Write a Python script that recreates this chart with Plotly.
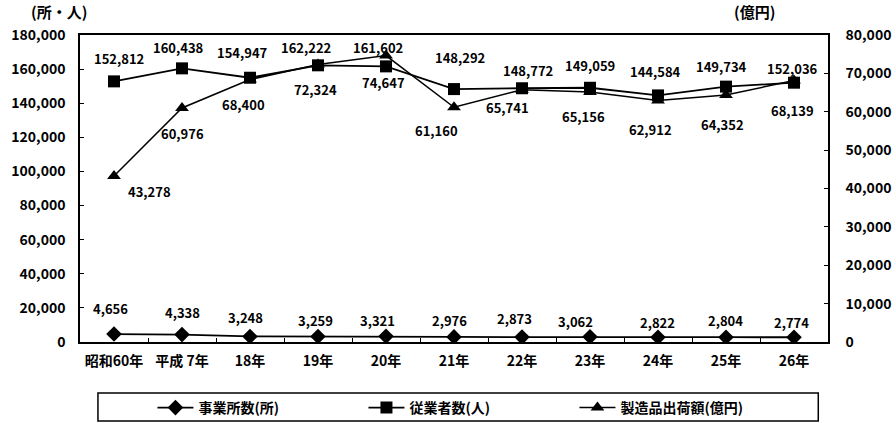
import plotly.graph_objects as go

# Survey years (category axis)
years = ["昭和60年", "平成 7年", "18年", "19年", "20年", "21年",
         "22年", "23年", "24年", "25年", "26年"]

# Number of establishments (所) - left axis
establishments = [4656, 4338, 3248, 3259, 3321, 2976, 2873, 3062, 2822, 2804, 2774]
# Number of employees (人) - left axis
employees = [152812, 160438, 154947, 162222, 161602, 148292,
             148772, 149059, 144584, 149734, 152036]
# Shipment value of manufactured goods (億円) - right axis
shipments = [43278, 60976, 68400, 72324, 74647, 61160,
             65741, 65156, 62912, 64352, 68139]

left_ticks = [0, 20000, 40000, 60000, 80000, 100000, 120000, 140000, 160000, 180000]
right_ticks = [0, 10000, 20000, 30000, 40000, 50000, 60000, 70000, 80000]

# Pixel offsets of the value labels relative to their points
est_dx = [-4, 0, -5, -3, -9, -5, -8, -15, -1, -1, -3]
est_dy = [26, 22, 19, 16, 16, 16, 19, 15, 15, 17, 15]
emp_dx = [5, -4, -8, -12, -8, 6, 6, 0, -3, -5, -2]
emp_dy = [23, 21, 25, 18, 19, 32, 18, 22, 24, 20, 14]
shp_dx = [35, 0, -7, -3, -3, -18, -15, -7, -8, -4, -2]
shp_dy = [-16, -25, -25, -25, -27, -23, -18, -25, -29, -29, -30]

FONT = "Noto Sans CJK JP"
BLACK = "#000000"

fig = go.Figure()

fig.add_trace(go.Scatter(
    x=years, y=establishments, name="事業所数(所)", mode="lines+markers",
    line=dict(color=BLACK, width=1.8),
    marker=dict(symbol="diamond", size=12, color=BLACK),
    yaxis="y"))
fig.add_trace(go.Scatter(
    x=years, y=employees, name="従業者数(人)", mode="lines+markers",
    line=dict(color=BLACK, width=1.8),
    marker=dict(symbol="square", size=12, color=BLACK),
    yaxis="y"))
fig.add_trace(go.Scatter(
    x=years, y=shipments, name="製造品出荷額(億円)", mode="lines+markers",
    line=dict(color=BLACK, width=1.5),
    marker=dict(symbol="triangle-up", size=12, color=BLACK),
    yaxis="y2"))

annotations = []
label_font = dict(family=FONT, size=13, color=BLACK, weight="bold")
for series, axis, dxs, dys in [(establishments, "y", est_dx, est_dy),
                               (employees, "y", emp_dx, emp_dy),
                               (shipments, "y2", shp_dx, shp_dy)]:
    for x, v, dx, dy in zip(years, series, dxs, dys):
        annotations.append(dict(
            x=x, y=v, xref="x", yref=axis, text=f"{v:,}", showarrow=False,
            xshift=dx, yshift=dy, font=label_font))

# Axis unit captions
annotations.append(dict(text="(所・人)", xref="paper", yref="paper", x=-0.068, y=1.035,
                        xanchor="left", yanchor="bottom", showarrow=False,
                        font=dict(family=FONT, size=15, color=BLACK, weight="bold")))
annotations.append(dict(text="(億円)", xref="paper", yref="paper", x=0.872, y=1.035,
                        xanchor="left", yanchor="bottom", showarrow=False,
                        font=dict(family=FONT, size=15, color=BLACK, weight="bold")))

tick_font = dict(family=FONT, size=14, color=BLACK, weight="bold")

fig.update_layout(
    width=896, height=423,
    margin=dict(l=80, r=68, t=35, b=81, autoexpand=False),
    paper_bgcolor="white", plot_bgcolor="white",
    showlegend=True,
    legend=dict(orientation="h", x=0.52, xanchor="center", y=-0.215, yanchor="middle",
                font=dict(family=FONT, size=14, color=BLACK, weight="bold"),
                entrywidth=160, itemwidth=36, bgcolor="rgba(0,0,0,0)",
                borderwidth=0),
    xaxis=dict(type="category", range=[-0.5, 10.5], showgrid=False,
               showline=True, linecolor=BLACK, linewidth=1.5, mirror=True,
               ticks="inside", ticklen=4, tickcolor=BLACK, tickson="boundaries",
               tickangle=0, automargin=False,
               tickfont=dict(family=FONT, size=14, color=BLACK, weight="bold"),
               ticklabelstandoff=5),
    yaxis=dict(range=[0, 180000], tickvals=left_ticks, automargin=False,
               ticktext=[f"{t:,}" for t in left_ticks], showgrid=False,
               showline=True, linecolor=BLACK, linewidth=1.5, zeroline=False,
               ticks="inside", ticklen=4, tickcolor=BLACK,
               tickfont=tick_font, ticklabelstandoff=10),
    yaxis2=dict(range=[0, 80000], tickvals=right_ticks, automargin=False,
                ticktext=[f"{t:,}" for t in right_ticks], overlaying="y", side="right",
                showgrid=False, showline=True, linecolor=BLACK, linewidth=1.5,
                zeroline=False, ticks="inside", ticklen=4, tickcolor=BLACK,
                tickfont=tick_font, ticklabelstandoff=13),
    annotations=annotations,
    shapes=[dict(type="rect", xref="paper", yref="paper",
                 x0=0.024, x1=0.987, y0=-0.257, y1=-0.166,
                 line=dict(color=BLACK, width=1.5), fillcolor="rgba(0,0,0,0)")],
)

fig.write_html("out.html")
